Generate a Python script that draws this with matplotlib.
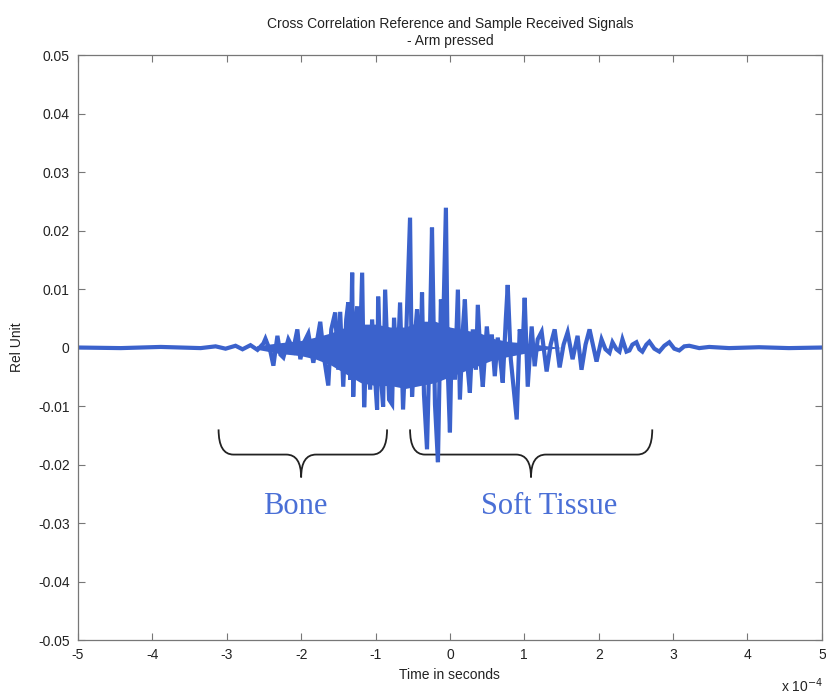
import numpy as np
import matplotlib
matplotlib.use("Agg")
import matplotlib.pyplot as plt
from matplotlib.path import Path
from matplotlib.patches import PathPatch

plt.rcParams['font.family'] = ['Liberation Sans', 'DejaVu Sans']
plt.rcParams['axes.unicode_minus'] = False

# time axis in units of 1e-4 s, values in relative units (peaks)
time_e4 = [
    -5.0, -4.424, -3.887, -3.351, -3.150, -3.016, -2.882, -2.788, -2.681, -2.587,
    -2.507, -2.480, -2.413, -2.373, -2.319, -2.279, -2.239, -2.172, -2.105, -2.051,
    -2.011, -1.957, -1.903, -1.836, -1.783, -1.743, -1.689, -1.635, -1.595, -1.542,
    -1.501, -1.475, -1.434, -1.394, -1.367, -1.340, -1.314, -1.300, -1.273, -1.247,
    -1.220, -1.180, -1.153, -1.113, -1.072, -1.046, -1.005, -0.979, -0.965, -0.925,
    -0.898, -0.871, -0.818, -0.777, -0.751, -0.710, -0.670, -0.630, -0.590, -0.536,
    -0.509, -0.469, -0.442, -0.402, -0.375, -0.349, -0.308, -0.268, -0.241, -0.201,
    -0.161, -0.121, -0.094, -0.054, -0.027, 0.000, 0.027, 0.067, 0.107, 0.134,
    0.174, 0.201, 0.241, 0.268, 0.308, 0.349, 0.375, 0.416, 0.442, 0.496,
    0.536, 0.563, 0.603, 0.643, 0.684, 0.710, 0.751, 0.777, 0.818, 0.858,
    0.898, 0.938, 0.979, 1.005, 1.046, 1.099, 1.139, 1.180, 1.233, 1.300,
    1.354, 1.408, 1.475, 1.528, 1.582, 1.649, 1.716, 1.769, 1.823, 1.877,
    1.971, 2.038, 2.091, 2.145, 2.185, 2.239, 2.279, 2.319, 2.373, 2.413,
    2.453, 2.507, 2.547, 2.587, 2.641, 2.681, 2.748, 2.815, 2.882, 2.949,
    3.016, 3.083, 3.150, 3.217, 3.351, 3.485, 3.753, 4.155, 4.558, 5.0,
]
signal = [
    0.0, -0.0001, 0.0001, -0.0001, 0.0002, -0.0002, 0.0003, -0.0003, 0.0004, -0.0004,
    0.0007, 0.0015, -0.0007, -0.0031, 0.0020, -0.0012, -0.0017, 0.0014, -0.0003, 0.0031,
    -0.0020, 0.0010, 0.0024, -0.0026, 0.0014, 0.0044, -0.0020, -0.0065, 0.0031, 0.0060,
    -0.0038, 0.0061, -0.0067, 0.0048, 0.0077, -0.0055, 0.0128, -0.0084, 0.0031, 0.0070,
    -0.0055, 0.0128, -0.0102, 0.0031, -0.0072, 0.0048, -0.0055, -0.0106, 0.0087, -0.0055,
    -0.0101, 0.0099, -0.0089, -0.0097, 0.0051, -0.0051, 0.0077, -0.0106, 0.0014, 0.0222,
    -0.0084, 0.0022, 0.0065, -0.0055, 0.0094, -0.0080, -0.0174, 0.0031, 0.0205, -0.0097,
    -0.0196, 0.0082, 0.0017, 0.0239, -0.0046, -0.0145, 0.0031, -0.0055, 0.0099, -0.0089,
    0.0031, 0.0082, -0.0038, -0.0077, 0.0031, -0.0038, 0.0073, -0.0029, -0.0067, 0.0036,
    -0.0020, 0.0022, -0.0049, 0.0017, -0.0029, -0.0060, 0.0048, 0.0107, -0.0020, -0.0072,
    -0.0123, 0.0031, 0.0005, 0.0085, -0.0067, 0.0036, -0.0032, 0.0014, 0.0027, -0.0041,
    0.0005, 0.0031, -0.0034, 0.0005, 0.0026, -0.0020, 0.0020, -0.0038, 0.0005, 0.0031,
    -0.0024, 0.0014, -0.0003, -0.0009, 0.0009, -0.0003, -0.0007, 0.0014, -0.0007, -0.0005,
    0.0005, 0.0009, -0.0003, -0.0007, 0.0005, 0.0010, -0.0002, -0.0007, 0.0003, 0.0009,
    -0.0002, -0.0005, 0.0002, 0.0003, -0.0001, 0.0001, -0.0001, 0.00005, -0.0001, 0.0,
]

# dense (solid-looking) core of the trace: upper / lower envelope
core_time = [-2.6, -2.3, -2.0, -1.8, -1.6, -1.4, -1.2, -1.0, -0.8, -0.6,
             -0.4, -0.2, 0.0, 0.2, 0.4, 0.6, 0.8, 1.0, 1.3, 1.5]
core_upper = [0.0003, 0.0008, 0.0012, 0.0018, 0.0025, 0.0035, 0.0040, 0.0040, 0.0035, 0.0035,
              0.0045, 0.0045, 0.0035, 0.0030, 0.0025, 0.0015, 0.0010, 0.0008, 0.0003, 0.0]
core_lower = [-0.0003, -0.0010, -0.0014, -0.0020, -0.0030, -0.0045, -0.0060, -0.0065, -0.0065, -0.0070,
              -0.0065, -0.0060, -0.0050, -0.0040, -0.0030, -0.0020, -0.0015, -0.0010, -0.0003, 0.0]

xticks = np.arange(-5, 6, 1)
yticks = np.round(np.arange(-0.05, 0.0501, 0.01), 2)
line_color = '#3b62cc'


def ylab(v):
    return '0' if abs(v) < 1e-9 else '%.2f' % v


def brace(ax, x0, x1, xm, ytop, yline, ytip, r=0.2):
    verts = [(x0, ytop), (x0, yline), (x0 + r, yline),
             (xm - r, yline), (xm, yline), (xm, ytip),
             (xm, yline), (xm + r, yline),
             (x1 - r, yline), (x1, yline), (x1, ytop)]
    codes = [Path.MOVETO, Path.CURVE3, Path.CURVE3,
             Path.LINETO, Path.CURVE3, Path.CURVE3,
             Path.CURVE3, Path.CURVE3,
             Path.LINETO, Path.CURVE3, Path.CURVE3]
    ax.add_patch(PathPatch(Path(verts, codes), fill=False, ec='#222222', lw=1.3))


fig = plt.figure(figsize=(8.26, 6.94), dpi=100)
ax = fig.add_axes([0.0944, 0.0778, 0.9006, 0.8429])

ax.fill_between(core_time, core_lower, core_upper, color=line_color, lw=0)
ax.plot(time_e4, signal, color=line_color, lw=3.0, solid_joinstyle='miter')

brace(ax, -3.11, -0.845, -2.0, -0.0140, -0.0183, -0.0222)
brace(ax, -0.536, 2.72, 1.09, -0.0140, -0.0183, -0.0222)
ax.text(-2.08, -0.0271, 'Bone', family=['Liberation Serif', 'DejaVu Serif'],
        fontsize=22, color='#4a6fd6', ha='center', va='center')
ax.text(1.34, -0.0271, 'Soft Tissue', family=['Liberation Serif', 'DejaVu Serif'],
        fontsize=22, color='#4a6fd6', ha='center', va='center')

ax.set_xlim(-5, 5)
ax.set_ylim(-0.05, 0.05)
ax.set_xticks(xticks)
ax.set_xticklabels([str(v) for v in xticks])
ax.set_yticks(yticks)
ax.set_yticklabels([ylab(v) for v in yticks])
ax.tick_params(direction='in', length=5, width=0.8, top=True, right=True,
               labelsize=10, colors='#777777', labelcolor='#222222', pad=6)
for s in ax.spines.values():
    s.set_color('#777777')
    s.set_linewidth(0.9)

ax.set_title('Cross Correlation Reference and Sample Received Signals\n- Arm pressed',
             fontsize=10, color='#222222', pad=7, linespacing=1.3)
ax.set_xlabel('Time in seconds', fontsize=10, color='#222222', labelpad=4)
ax.set_ylabel('Rel Unit', fontsize=10, color='#222222', labelpad=10)
fig.text(0.945, 0.0115, 'x 10$^{-4}$', fontsize=10, color='#222222', va='center')

fig.savefig('out.png', dpi=100)
